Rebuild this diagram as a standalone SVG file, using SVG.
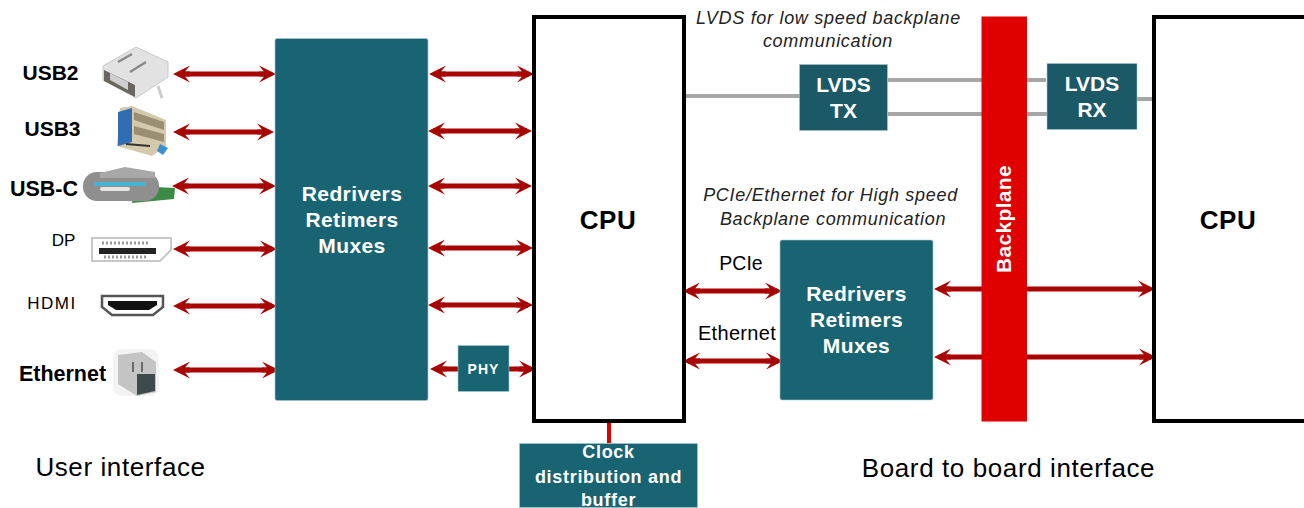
<svg xmlns="http://www.w3.org/2000/svg" width="1304" height="508" viewBox="0 0 1304 508">
<style>
text{font-family:"Liberation Sans",Arial,sans-serif}
.teal{fill:#196473;stroke:#a9c7ce;stroke-width:.6}
.dark{fill:#1b5966;stroke:#a9c7ce;stroke-width:.6}
.cpu{fill:#fff;stroke:#000;stroke-width:4}
.arr{stroke:#a80404;stroke-width:5;fill:none;marker-start:url(#a);marker-end:url(#a)}
.gray{stroke:#a6a6a6;stroke-width:4;fill:none}
.w{fill:#fff;font-weight:700;text-anchor:middle}
.b{fill:#000;text-anchor:middle}
.bb{fill:#000;font-weight:700;text-anchor:middle}
.it{fill:#222;font-style:italic;text-anchor:middle;font-size:18px;letter-spacing:.7px}
</style>
<defs>
<marker id="a" viewBox="-18 -9 18 18" refX="-5" refY="0" markerUnits="userSpaceOnUse" markerWidth="18" markerHeight="18" orient="auto-start-reverse">
<path d="M0 0L-17-8.500L-12-2.500H-17V2.500H-12L-17 8.500Z" fill="#a80404"/>
</marker>
</defs>
<g id="connectors">
<path class="arr" d="M178 74H271"/><path class="arr" d="M178 132H269"/><path class="arr" d="M177 186H271"/><path class="arr" d="M178 249H272"/><path class="arr" d="M178 306H272"/><path class="arr" d="M178 370H274"/>
<path class="arr" d="M434 74H529"/><path class="arr" d="M433 131H527"/><path class="arr" d="M433 186H527"/><path class="arr" d="M433 248H528"/><path class="arr" d="M433 305H528"/><path class="arr" d="M435 369H531"/>
<path class="arr" d="M688 291H777"/><path class="arr" d="M688 361H778"/><path class="arr" d="M939 289H1150"/><path class="arr" d="M939 357H1151"/>
<path class="gray" d="M686 96H800M888 80H982M888 114H982M1027 80H1046M1027 114H1047M1137 99H1153"/>
<path d="M609 422V443" stroke="#e00000" stroke-width="4" fill="none"/>
</g>
<g id="left-mux"><rect class="teal" x="275" y="38.500" width="153" height="362" rx="2"/>
<text class="w" font-size="21" letter-spacing=".4" x="352" y="201">Redrivers</text><text class="w" font-size="21" letter-spacing=".4" x="352" y="227">Retimers</text><text class="w" font-size="21" letter-spacing=".4" x="352" y="253">Muxes</text></g>
<g id="cpu-1"><rect class="cpu" x="534" y="17" width="150" height="404"/><text class="bb" font-size="26" x="608" y="229" letter-spacing=".5">CPU</text></g>
<g id="cpu-2"><rect class="cpu" x="1154" y="17" width="160" height="404"/><text class="bb" font-size="26" x="1228" y="229" letter-spacing=".5">CPU</text></g>
<g id="backplane"><rect x="981.500" y="16.500" width="45.500" height="405" fill="#e00000"/><text class="w" font-size="21" letter-spacing=".3" transform="translate(1011 219) rotate(-90)">Backplane</text></g>
<g id="lvds-tx"><rect class="dark" x="799.500" y="64.500" width="88" height="66"/><text class="w" font-size="21" x="843.500" y="92">LVDS</text><text class="w" font-size="21" x="843.500" y="118">TX</text></g>
<g id="lvds-rx"><rect class="dark" x="1047" y="63.500" width="90" height="66"/><text class="w" font-size="21" x="1092" y="91">LVDS</text><text class="w" font-size="21" x="1092" y="117">RX</text></g>
<g id="right-mux"><rect class="teal" x="780" y="240" width="153" height="160" rx="2"/><text class="w" font-size="21" letter-spacing=".4" x="856.500" y="301">Redrivers</text><text class="w" font-size="21" letter-spacing=".4" x="856.500" y="327">Retimers</text><text class="w" font-size="21" letter-spacing=".4" x="856.500" y="353">Muxes</text></g>
<g id="phy"><rect class="teal" x="458" y="345.500" width="51" height="46"/><text class="w" font-size="14" x="483.500" y="374" letter-spacing="1">PHY</text></g>
<g id="clock"><rect class="teal" x="519.500" y="443.500" width="178" height="64"/><text class="w" font-size="18" x="608.500" y="458" letter-spacing=".7">Clock</text><text class="w" font-size="18" x="608.500" y="483" letter-spacing=".7">distribution and</text><text class="w" font-size="18" x="608.500" y="506" letter-spacing=".7">buffer</text></g>
<g id="usb2"><path d="M103 66L136 47L168 62V77L136 98L103 80Z" fill="#e2e2e2" stroke="#c9c9c9"/><path d="M104 70L135 85V97L104 81Z" fill="#6a665f"/><path d="M110 73L128 82V90L110 80Z" fill="#cfcfcf"/><path d="M118 62L132 54M130 72L146 62" stroke="#8a8a8a" stroke-width="2.500"/><path d="M158 86L162 98" stroke="#ccc" stroke-width="3"/><text class="bb" font-size="21" x="50.500" y="80">USB2</text></g>
<g id="usb3"><path d="M120 108L132 106L166 120V146L152 156L117 146Z" fill="#d5c9ab"/><path d="M118 112L132 108V142L118 146Z" fill="#2f6db5"/><path d="M134 112L164 122V130L134 120ZM134 126L164 134V142L134 134Z" fill="#9a8f72"/><path d="M126 144L150 146" stroke="#333" stroke-width="2"/><path d="M160 144L168 148L163 155L157 151Z" fill="#3b8fd0"/><text class="bb" font-size="21" x="52.500" y="136">USB3</text></g>
<g id="usbc"><path d="M136 186L175 188L174 199L132 203Z" fill="#3b8a45"/><rect x="83" y="172" width="76" height="29" rx="14" fill="#8f8f8f"/><path d="M100 173L125 167L155 172V178H100Z" fill="#a8a8a8"/><rect x="94" y="182" width="52" height="4" rx="2" fill="#46b3d0"/><rect x="100" y="187" width="30" height="4" rx="2" fill="#e4e4e4"/><text class="bb" font-size="21.500" x="44" y="196">USB-C</text></g>
<g id="dp"><path d="M92 238H171V250L160 261H92Z" fill="#fff" stroke="#c8c8c8" stroke-width="2"/><path d="M99 248H156V254H99Z" fill="#222"/><path d="M102 243H150M104 257H148" stroke="#999" stroke-width="3" stroke-dasharray="2 2"/><text class="b" font-size="17" x="63.500" y="246">DP</text></g>
<g id="hdmi"><path d="M102 296H163V307L153 315H112L102 307Z" fill="#fff" stroke="#555" stroke-width="2.500"/><path d="M108 301H157V305L149 310H116L108 305Z" fill="#111"/><text class="b" font-size="17" x="52" y="309" letter-spacing="1.500">HDMI</text></g>
<g id="ethernet"><rect x="113" y="349" width="46" height="47" rx="9" fill="#f3f3f3"/><path d="M118 355L142 352L156 362V392L137 396L118 384Z" fill="#c4c4c4"/><path d="M137 374H155V391L137 395Z" fill="#3e4a4c"/><path d="M133 362V372M142 362V372" stroke="#6a6a6a" stroke-width="2"/><text class="bb" font-size="21.500" x="62.500" y="381">Ethernet</text></g>
<g id="labels">
<text class="it" x="828.500" y="24">LVDS for low speed backplane</text>
<text class="it" x="828" y="47">communication</text>
<text class="it" x="830.500" y="201">PCIe/Ethernet for High speed</text>
<text class="it" x="833" y="225">Backplane communication</text>
<text class="b" font-size="19.500" x="741" y="270">PCIe</text>
<text class="b" font-size="20" letter-spacing=".3" x="737" y="340">Ethernet</text>
<text class="b" font-size="26" letter-spacing=".6" x="120.500" y="476">User interface</text>
<text class="b" font-size="26" letter-spacing=".6" x="1008.500" y="477">Board to board interface</text>
</g>
</svg>
